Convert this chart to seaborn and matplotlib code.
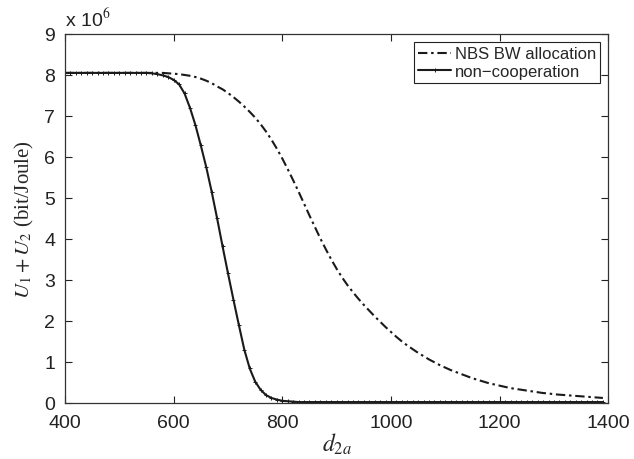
import numpy as np
import pandas as pd
import matplotlib.pyplot as plt
import seaborn as sns

sns.set_theme(style="ticks")
plt.rcParams["font.family"] = ["Liberation Sans", "DejaVu Sans"]
plt.rcParams["mathtext.fontset"] = "stix"
plt.rcParams["xtick.direction"] = "in"
plt.rcParams["ytick.direction"] = "in"
plt.rcParams["xtick.top"] = True
plt.rcParams["ytick.right"] = True

# distance d_2a (sampling grid of the curves)
d2a = np.arange(400, 1400, 10)

# U1 + U2 in units of 1e6 bit/Joule
nbs = [8.05, 8.05, 8.05, 8.05, 8.05, 8.05, 8.05, 8.05, 8.05, 8.05,
       8.05, 8.05, 8.05, 8.05, 8.05, 8.05, 8.05, 8.05, 8.05, 8.04,
       8.03, 8.02, 8.00, 7.98, 7.95, 7.91, 7.86, 7.80, 7.72, 7.65,
       7.56, 7.46, 7.35, 7.23, 7.10, 6.96, 6.80, 6.62, 6.42, 6.20,
       5.96, 5.70, 5.43, 5.15, 4.86, 4.57, 4.29, 4.01, 3.75, 3.50,
       3.27, 3.06, 2.87, 2.70, 2.54, 2.39, 2.25, 2.11, 1.98, 1.85,
       1.73, 1.61, 1.50, 1.40, 1.31, 1.22, 1.14, 1.06, 0.99, 0.92,
       0.86, 0.80, 0.75, 0.70, 0.65, 0.60, 0.56, 0.52, 0.48, 0.45,
       0.42, 0.39, 0.36, 0.34, 0.32, 0.30, 0.28, 0.26, 0.24, 0.23,
       0.21, 0.20, 0.19, 0.18, 0.17, 0.16, 0.15, 0.14, 0.13, 0.12]

noncoop = [8.05, 8.05, 8.05, 8.05, 8.05, 8.05, 8.05, 8.05, 8.05, 8.05,
           8.05, 8.05, 8.05, 8.05, 8.05, 8.05, 8.04, 8.02, 7.99, 7.95,
           7.88, 7.77, 7.55, 7.20, 6.78, 6.28, 5.75, 5.15, 4.50, 3.82,
           3.16, 2.52, 1.90, 1.30, 0.84, 0.52, 0.32, 0.19, 0.12, 0.08,
           0.05, 0.04, 0.03, 0.02, 0.02, 0.02, 0.02, 0.02, 0.02, 0.02,
           0.02, 0.02, 0.02, 0.02, 0.02, 0.02, 0.02, 0.02, 0.02, 0.02,
           0.02, 0.02, 0.02, 0.02, 0.02, 0.02, 0.02, 0.02, 0.02, 0.02,
           0.02, 0.02, 0.02, 0.02, 0.02, 0.02, 0.02, 0.02, 0.02, 0.02,
           0.02, 0.02, 0.02, 0.02, 0.02, 0.02, 0.02, 0.02, 0.02, 0.02,
           0.02, 0.02, 0.02, 0.02, 0.02, 0.02, 0.02, 0.02, 0.02, 0.02]

df = pd.DataFrame({"d2a": d2a, "nbs": nbs, "noncoop": noncoop})

ink = "#1a1a1a"
fig = plt.figure(figsize=(6.34, 4.6), dpi=100)
ax = fig.add_axes([0.1025, 0.122, 0.857, 0.802])

sns.lineplot(data=df, x="d2a", y="nbs", ax=ax, color=ink, lw=1.5,
             label="NBS BW allocation")
ax.lines[-1].set_dashes([4.5, 1.8, 1.2, 1.8])
sns.lineplot(data=df, x="d2a", y="noncoop", ax=ax, color=ink, lw=1.5,
             marker="+", markersize=3.5, markeredgewidth=0.7,
             markeredgecolor=ink, markerfacecolor=ink,
             label="non\u2212cooperation")

ax.set_xlim(400, 1400)
ax.set_ylim(0, 9)
ax.set_xticks([400, 600, 800, 1000, 1200, 1400])
ax.set_yticks(range(0, 10))
ax.tick_params(labelsize=14, length=5, width=0.8, colors="#222222")
ax.tick_params(axis="x", pad=8)
ax.tick_params(axis="y", pad=7)
for s in ax.spines.values():
    s.set_color("#333333")
    s.set_linewidth(0.9)

ax.set_xlabel("$d_{2a}$", fontsize=17, labelpad=0)
ax.set_ylabel("$U_1 + U_2$ (bit/Joule)", fontsize=15,
              family="Liberation Serif", labelpad=6)
ax.text(0.0, 1.012, "x 10$^6$", transform=ax.transAxes, fontsize=14,
        ha="left", va="bottom", color="#222222")

leg = ax.legend(loc="upper right", fontsize=12, frameon=True, fancybox=False,
                edgecolor="#222222", framealpha=1, handlelength=2.0,
                handletextpad=0.2, borderpad=0.25, labelspacing=0.15,
                borderaxespad=0.5)
leg.get_frame().set_linewidth(0.8)

fig.savefig("out.png", dpi=100)
